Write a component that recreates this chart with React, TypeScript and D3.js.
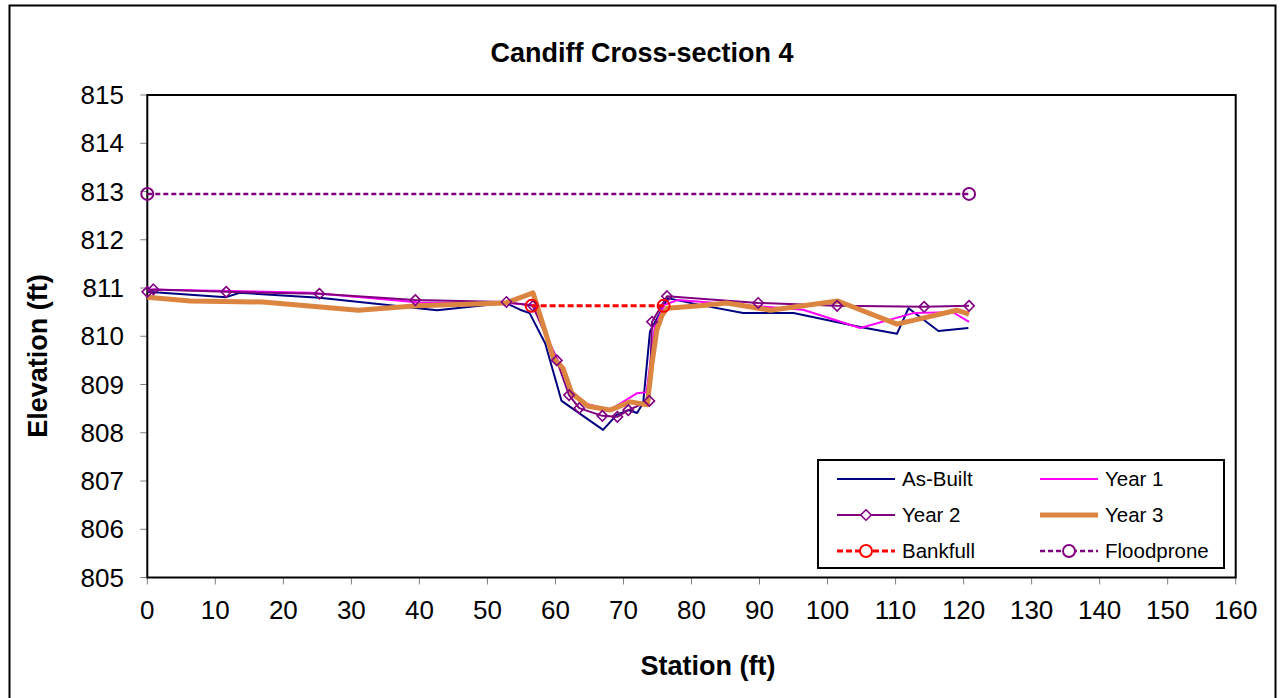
import React from "react";
import * as d3 from "d3";

const xTicks = [0, 10, 20, 30, 40, 50, 60, 70, 80, 90, 100, 110, 120, 130, 140, 150, 160];
const yTicks = [805, 806, 807, 808, 809, 810, 811, 812, 813, 814, 815];

const asBuiltX = [0, 11.6, 13.6, 25.3, 42.6, 52.7, 54.8, 56.2, 58.5, 60.9, 67.0, 69.0, 70.7, 72.0, 72.9, 73.9, 76.5, 81.2, 87.6, 95, 104.8, 110.2, 111.9, 116.3, 120.7];
const asBuiltY = [810.92, 810.81, 810.9, 810.8, 810.54, 810.69, 810.55, 810.48, 809.85, 808.66, 808.06, 808.37, 808.47, 808.41, 808.62, 810.1, 810.79, 810.65, 810.48, 810.48, 810.19, 810.05, 810.58, 810.11, 810.17];

const year1X = [0, 12, 24, 40, 52.7, 56.6, 58.7, 60.5, 62.5, 64.5, 68, 72, 73.4, 74.6, 76, 78, 96.4, 104.8, 112.6, 118.4, 120.8];
const year1Y = [810.97, 810.94, 810.9, 810.7, 810.69, 810.65, 810.0, 809.45, 808.85, 808.6, 808.47, 808.82, 808.84, 810.2, 810.65, 810.75, 810.55, 810.17, 810.48, 810.5, 810.3];

const year2X = [0, 0.9, 11.6, 25.3, 39.4, 52.8, 56.7, 60.2, 62.0, 63.5, 66.9, 69.1, 70.7, 73.8, 74.2, 76.4, 89.8, 101.4, 114.2, 120.8];
const year2Y = [810.92, 810.97, 810.92, 810.88, 810.75, 810.71, 810.63, 809.5, 808.78, 808.51, 808.35, 808.33, 808.47, 808.66, 810.3, 810.83, 810.69, 810.63, 810.61, 810.63];

const year3X = [0, 6.3, 17, 31, 39.7, 52.7, 56.7, 58.2, 59.7, 61.1, 62.4, 64.8, 68.0, 71.0, 73.5, 74.2, 74.9, 75.7, 76.4, 81.2, 85.2, 91.6, 101.5, 110.2, 119, 120.8];
const year3Y = [810.81, 810.73, 810.71, 810.54, 810.63, 810.69, 810.9, 810.23, 809.55, 809.34, 808.82, 808.55, 808.47, 808.64, 808.58, 809.44, 810.13, 810.44, 810.58, 810.63, 810.69, 810.54, 810.73, 810.25, 810.54, 810.46];

const bankfullX = [56.5, 75.9];
const bankfullY = [810.63, 810.63];

const floodX = [0, 120.8];
const floodY = [812.95, 812.95];

const W = 1286;
const H = 698;
const PL = 147.3, PR = 1235.7, PT = 95, PB = 577.5;
const FONT = "Arial, 'Liberation Sans', Helvetica, sans-serif";

export default function App() {
  const x = d3.scaleLinear().domain([0, 160]).range([PL, PR]);
  const y = d3.scaleLinear().domain([805, 815]).range([PB, PT]);
  const line = d3.line<[number, number]>().x((d) => x(d[0])).y((d) => y(d[1]));
  const pts = (xs: number[], ys: number[]) => xs.map((v, i) => [v, ys[i]] as [number, number]);

  const diamond = (cx: number, cy: number, r: number) =>
    `M${cx},${cy - r}L${cx + r},${cy}L${cx},${cy + r}L${cx - r},${cy}Z`;

  const series = [
    { name: "As-Built", xs: asBuiltX, ys: asBuiltY, color: "#000080", w: 2, dash: undefined as string | undefined },
    { name: "Year 1", xs: year1X, ys: year1Y, color: "#FF00FF", w: 2, dash: undefined },
    { name: "Year 2", xs: year2X, ys: year2Y, color: "#800080", w: 2, dash: undefined },
    { name: "Year 3", xs: year3X, ys: year3Y, color: "#DB8541", w: 5, dash: undefined },
    { name: "Bankfull", xs: bankfullX, ys: bankfullY, color: "#FF0000", w: 3, dash: "6 3" },
    { name: "Floodprone", xs: floodX, ys: floodY, color: "#800080", w: 2.5, dash: "5 3" },
  ];

  const legendRows = [479, 515, 551];
  const legendCols = [{ lx: 837, tx: 902 }, { lx: 1040, tx: 1105 }];

  return (
    <div style={{ position: "fixed", left: 0, top: 0, width: W, height: H, background: "#fff" }}>
      <svg width={W} height={H} style={{ display: "block" }} fontFamily={FONT}>
        <rect x={0} y={0} width={W} height={H} fill="#fff" />
        <rect x={9.5} y={5.5} width={1266} height={700} fill="none" stroke="#000" strokeWidth={2} />
        <text x={642} y={62} textAnchor="middle" fontSize={27} fontWeight="bold">
          Candiff Cross-section 4
        </text>
        {yTicks.map((t) => (
          <g key={"y" + t}>
            <line x1={PL - 7} x2={PL} y1={y(t)} y2={y(t)} stroke="#808080" strokeWidth={1} />
            <text x={124} y={y(t)} dy="0.35em" textAnchor="end" fontSize={26}>
              {t}
            </text>
          </g>
        ))}
        {xTicks.map((t) => (
          <g key={"x" + t}>
            <line x1={x(t)} x2={x(t)} y1={PB} y2={PB + 7} stroke="#808080" strokeWidth={1} />
            <text x={x(t)} y={619} textAnchor="middle" fontSize={26}>
              {t}
            </text>
          </g>
        ))}
        <rect x={PL} y={PT} width={PR - PL} height={PB - PT} fill="none" stroke="#000" strokeWidth={2} />
        {series.map((s) => (
          <path
            key={s.name}
            d={line(pts(s.xs, s.ys)) || ""}
            fill="none"
            stroke={s.color}
            strokeWidth={s.w}
            strokeDasharray={s.dash}
            strokeLinejoin="round"
          />
        ))}
        {year2X.map((v, i) => (
          <path key={"d" + i} d={diamond(x(v), y(year2Y[i]), 5.2)} fill="none" stroke="#800080" strokeWidth={1.6} />
        ))}
        {bankfullX.map((v, i) => (
          <circle key={"b" + i} cx={x(v)} cy={y(bankfullY[i])} r={6} fill="none" stroke="#FF0000" strokeWidth={2} />
        ))}
        {floodX.map((v, i) => (
          <circle key={"f" + i} cx={x(v)} cy={y(floodY[i])} r={6} fill="none" stroke="#800080" strokeWidth={2} />
        ))}
        <rect x={818} y={460} width={406} height={108} fill="#fff" stroke="#000" strokeWidth={2} />
        {series.map((s, i) => {
          const col = legendCols[i % 2];
          const ry = legendRows[Math.floor(i / 2)];
          const mid = col.lx + 29;
          return (
            <g key={"l" + s.name}>
              <line x1={col.lx} x2={col.lx + 58} y1={ry} y2={ry} stroke={s.color} strokeWidth={s.w} strokeDasharray={s.dash} />
              {s.name === "Year 2" && <path d={diamond(mid, ry, 5.2)} fill="#fff" stroke={s.color} strokeWidth={1.6} />}
              {(s.name === "Bankfull" || s.name === "Floodprone") && (
                <circle cx={mid} cy={ry} r={6} fill="#fff" stroke={s.color} strokeWidth={2} />
              )}
              <text x={col.tx} y={ry} dy="0.36em" fontSize={20.5}>
                {s.name}
              </text>
            </g>
          );
        })}
        <text x={708} y={675} textAnchor="middle" fontSize={27} fontWeight="bold">
          Station (ft)
        </text>
        <text transform="translate(47,356) rotate(-90)" textAnchor="middle" fontSize={27} fontWeight="bold">
          Elevation (ft)
        </text>
      </svg>
    </div>
  );
}
